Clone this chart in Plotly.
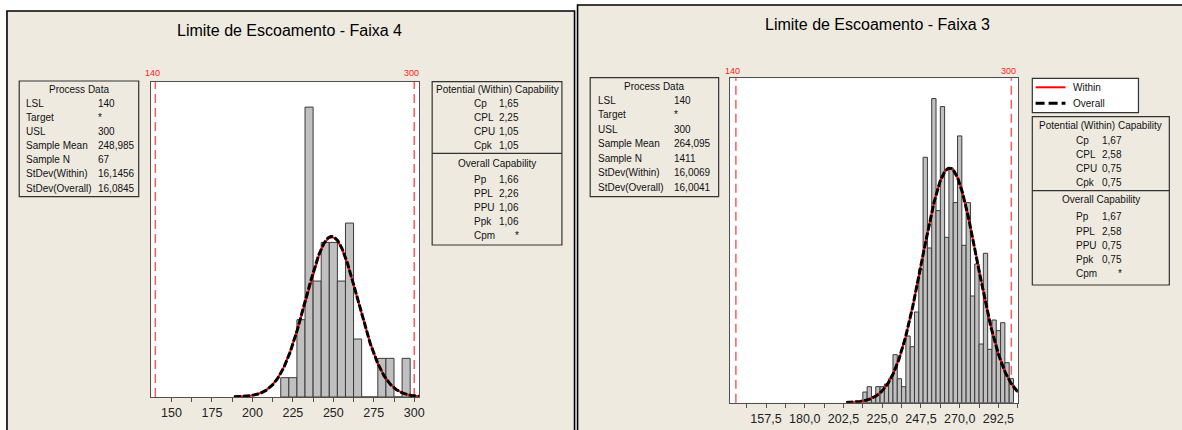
import numpy as np
import plotly.graph_objects as go

W, H = 1182, 430
FONT = "Liberation Sans"
PANEL_BG = "#EEEAE0"
BOX_LINE = "#333333"
AXIS_LINE = "#505050"
SMALL = 10

# ---------------- Faixa 4 ----------------
f4_title = "Limite de Escoamento - Faixa 4"
f4_lsl = 140
f4_usl = 300
f4_mean = 248.985
f4_n = 67
f4_sd_within = 16.1456
f4_sd_overall = 16.0845
f4_bin_width = 5.0
f4_bin_centers = [220, 225, 230, 235, 240, 245, 250, 255, 260, 265, 270, 275, 280, 285, 290, 295]
f4_counts = [1, 1, 4, 15, 6, 8, 8, 6, 9, 3, 0, 0, 2, 2, 0, 2]
f4_tick_values = [137.5, 150, 162.5, 175, 187.5, 200, 212.5, 225, 237.5, 250, 262.5, 275, 287.5, 300]
f4_tick_labels = ["", "150", "", "175", "", "200", "", "225", "", "250", "", "275", "", "300"]
f4_within_names = ["Cp", "CPL", "CPU", "Cpk"]
f4_within_values = ["1,65", "2,25", "1,05", "1,05"]
f4_overall_names = ["Pp", "PPL", "PPU", "Ppk", "Cpm"]
f4_overall_values = ["1,66", "2,26", "1,06", "1,06", "*"]

# ---------------- Faixa 3 ----------------
f3_title = "Limite de Escoamento - Faixa 3"
f3_lsl = 140
f3_usl = 300
f3_mean = 264.095
f3_n = 1411
f3_sd_within = 16.0069
f3_sd_overall = 16.0041
f3_bin_width = 2.5
f3_bin_centers = [215.0, 217.5, 220.0, 222.5, 225.0, 227.5, 230.0, 232.5, 235.0, 237.5,
                  240.0, 242.5, 245.0, 247.5, 250.0, 252.5, 255.0, 257.5, 260.0, 262.5,
                  265.0, 267.5, 270.0, 272.5, 275.0, 277.5, 280.0, 282.5, 285.0, 287.5,
                  290.0, 292.5, 295.0, 297.5, 300.0]
f3_counts = [4, 6, 2, 6, 6, 7, 9, 18, 9, 6,
             25, 21, 34, 50, 92, 58, 114, 72, 111, 62,
             88, 75, 100, 59, 75, 40, 52, 22, 56, 20,
             31, 27, 30, 15, 9]
f3_tick_values = [146.25, 157.5, 168.75, 180.0, 191.25, 202.5, 213.75, 225.0,
                  236.25, 247.5, 258.75, 270.0, 281.25, 292.5, 303.75]
f3_tick_labels = ["", "157,5", "", "180,0", "", "202,5", "", "225,0",
                  "", "247,5", "", "270,0", "", "292,5", ""]
f3_within_names = ["Cp", "CPL", "CPU", "Cpk"]
f3_within_values = ["1,67", "2,58", "0,75", "0,75"]
f3_overall_names = ["Pp", "PPL", "PPU", "Ppk", "Cpm"]
f3_overall_values = ["1,67", "2,58", "0,75", "0,75", "*"]

proc_names = ["LSL", "Target", "USL", "Sample Mean", "Sample N", "StDev(Within)", "StDev(Overall)"]


def dec(v, nd):
    return f"{v:.{nd}f}".replace(".", ",")


def proc_values(lsl, usl, mean, n, sdw, sdo):
    return [str(lsl), "*", str(usl), dec(mean, 3), str(n), dec(sdw, 4), dec(sdo, 4)]


def px(x):
    return x / W


def py(y):
    return 1 - y / H


def normal_curve(mean, sd, n, width):
    x = np.linspace(mean - 3.75 * sd, mean + 3.75 * sd, 400)
    y = n * width * np.exp(-0.5 * ((x - mean) / sd) ** 2) / (sd * np.sqrt(2 * np.pi))
    return x, y


fig = go.Figure()
shapes = []
annotations = []


def text(x, y, s, size=SMALL, anchor="left", color="#111111"):
    annotations.append(dict(x=px(x), y=py(y), xref="paper", yref="paper", text=s,
                            showarrow=False, xanchor=anchor, yanchor="middle",
                            font=dict(family=FONT, size=size, color=color)))


def rect(x0, y0, x1, y1, fill="rgba(0,0,0,0)", color=BOX_LINE, width=1.2):
    shapes.append(dict(type="rect", xref="paper", yref="paper", layer="below",
                       x0=px(x0), x1=px(x1), y0=py(y1), y1=py(y0),
                       fillcolor=fill, line=dict(color=color, width=width)))


def hline(x0, x1, y, color=BOX_LINE, width=1.2, dash="solid"):
    shapes.append(dict(type="line", xref="paper", yref="paper", layer="below",
                       x0=px(x0), x1=px(x1), y0=py(y), y1=py(y),
                       line=dict(color=color, width=width, dash=dash)))


# panel frames
rect(7, 11, 577, 450, fill=PANEL_BG, color="#000000", width=1.6)
rect(580, 5, 1200, 450, fill=PANEL_BG, color="#000000", width=1.6)

panels = [
    dict(xa="x", ya="y", xaxis="xaxis", yaxis="yaxis",
         dom_x=(152, 421), dom_y=(82, 397), xr=(137.54, 303.08), yr=(0, 16.3),
         centers=f4_bin_centers, counts=f4_counts, bw=f4_bin_width,
         mean=f4_mean, n=f4_n, sdw=f4_sd_within, sdo=f4_sd_overall,
         lsl=f4_lsl, usl=f4_usl, tv=f4_tick_values, tt=f4_tick_labels, spec_y=73),
    dict(xa="x2", ya="y2", xaxis="xaxis2", yaxis="yaxis2",
         dom_x=(733.3, 1022.7), dom_y=(78.3, 402.7), xr=(136.70, 304.09), yr=(0, 121.6),
         centers=f3_bin_centers, counts=f3_counts, bw=f3_bin_width,
         mean=f3_mean, n=f3_n, sdw=f3_sd_within, sdo=f3_sd_overall,
         lsl=f3_lsl, usl=f3_usl, tv=f3_tick_values, tt=f3_tick_labels, spec_y=70.7),
]

layout_axes = {}
for p in panels:
    xref_dom = p["xa"] + " domain"
    yref_dom = p["ya"] + " domain"
    # white plotting area
    shapes.append(dict(type="rect", xref=xref_dom, yref=yref_dom, layer="below",
                       x0=0, x1=1, y0=0, y1=1, fillcolor="white", line=dict(width=0)))
    # specification limits
    for lim in (p["lsl"], p["usl"]):
        shapes.append(dict(type="line", xref=p["xa"], yref=yref_dom, layer="below",
                           x0=lim, x1=lim, y0=0, y1=1,
                           line=dict(color="#FF5A5A", width=1.5, dash="9px,5px")))
        annotations.append(dict(x=lim, y=py(p["spec_y"]), xref=p["xa"], yref="paper",
                                text=str(lim), showarrow=False, xanchor="center",
                                yanchor="middle", xshift=-3,
                                font=dict(family=FONT, size=9, color="#FF2020")))

    fig.add_trace(go.Bar(x=p["centers"], y=p["counts"], width=p["bw"],
                         marker=dict(color="#C0C0C0", line=dict(color="#3A3A3A", width=1)),
                         xaxis=p["xa"], yaxis=p["ya"], hoverinfo="skip"))
    cx, cy = normal_curve(p["mean"], p["sdw"], p["n"], p["bw"])
    fig.add_trace(go.Scatter(x=cx, y=cy, mode="lines", xaxis=p["xa"], yaxis=p["ya"],
                             line=dict(color="#FF0000", width=2), hoverinfo="skip"))
    cx, cy = normal_curve(p["mean"], p["sdo"], p["n"], p["bw"])
    fig.add_trace(go.Scatter(x=cx, y=cy, mode="lines", xaxis=p["xa"], yaxis=p["ya"],
                             line=dict(color="#000000", width=3, dash="7px,2px"),
                             hoverinfo="skip"))

    layout_axes[p["xaxis"]] = dict(
        domain=[px(p["dom_x"][0]), px(p["dom_x"][1])], range=list(p["xr"]),
        anchor=p["ya"], tickmode="array", tickvals=p["tv"], ticktext=p["tt"],
        ticks="outside", ticklen=4, tickcolor=AXIS_LINE, showline=True, mirror=True,
        linecolor=AXIS_LINE, linewidth=1, showgrid=False, zeroline=False,
        tickfont=dict(family=FONT, size=12.5, color="#222222"), fixedrange=True)
    layout_axes[p["yaxis"]] = dict(
        domain=[py(p["dom_y"][1]), py(p["dom_y"][0])], range=list(p["yr"]),
        anchor=p["xa"], showticklabels=False, ticks="", showline=True, mirror=True,
        linecolor=AXIS_LINE, linewidth=1, showgrid=False, zeroline=False, fixedrange=True)

# titles
text(290.5, 31, f4_title, size=16, anchor="center", color="#000000")
text(881, 24, f3_title, size=16, anchor="center", color="#000000")


# Process Data boxes
def process_box(x0, y0, x1, y1, head_y, row0, step, lab_x, val_x, values):
    rect(x0, y0, x1, y1)
    text((x0 + x1) / 2, head_y, "Process Data", anchor="center")
    for i, (nm, v) in enumerate(zip(proc_names, values)):
        text(lab_x, row0 + i * step, nm)
        text(val_x, row0 + i * step, v)


process_box(19.3, 81, 139.3, 196.7, 89, 103.4, 14.1, 24.3, 96,
            proc_values(f4_lsl, f4_usl, f4_mean, f4_n, f4_sd_within, f4_sd_overall))
process_box(592.7, 77.7, 721.7, 196.7, 86.7, 100.3, 14.5, 599, 675.3,
            proc_values(f3_lsl, f3_usl, f3_mean, f3_n, f3_sd_within, f3_sd_overall))


# Capability boxes
def capability_box(x0, y0, x1, y1, div_y, head1_y, rows1, head2_y, rows2,
                   lab_x, val_right, wn, wv, on, ov):
    rect(x0, y0, x1, y1)
    hline(x0, x1, div_y)
    text((x0 + x1) / 2, head1_y, "Potential (Within) Capability", anchor="center")
    for y, nm, v in zip(rows1, wn, wv):
        text(lab_x, y, nm)
        text(val_right, y, v, anchor="right")
    text((x0 + x1) / 2, head2_y, "Overall Capability", anchor="center")
    for y, nm, v in zip(rows2, on, ov):
        text(lab_x, y, nm)
        text(val_right, y, v, anchor="right")


capability_box(434, 81.7, 564.3, 245, 153.3, 89.3,
               [103.3, 117.3, 131.3, 145.3], 163.3,
               [179.3, 193.3, 207.3, 221.3, 235.3],
               474, 523, f4_within_names, f4_within_values,
               f4_overall_names, f4_overall_values)
capability_box(1036.7, 116.7, 1174.3, 285, 190.7, 125,
               [140, 154.2, 168.4, 182.6], 199.3,
               [216.7, 231.0, 245.3, 259.6, 273.9],
               1078.3, 1129, f3_within_names, f3_within_values,
               f3_overall_names, f3_overall_values)

# legend
rect(1036.7, 78.3, 1143.3, 112.7, fill="white")
hline(1040, 1070, 87.3, color="#FF0000", width=2)
text(1076, 87.3, "Within")
hline(1040, 1070, 103.3, color="#000000", width=3, dash="9px,4px")
text(1076, 103.3, "Overall")

fig.update_layout(
    width=W, height=H, margin=dict(l=0, r=0, t=0, b=0),
    paper_bgcolor="white", plot_bgcolor="white", showlegend=False,
    barmode="overlay", shapes=shapes, annotations=annotations, **layout_axes)

fig.write_html("out.html", config={"displayModeBar": False})
